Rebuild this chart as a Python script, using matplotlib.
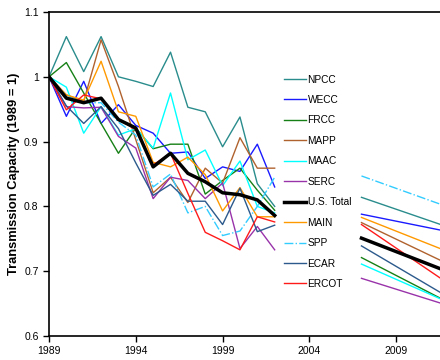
import matplotlib
matplotlib.use('Agg')
import matplotlib.pyplot as plt
import numpy as np

plt.rcParams['font.family'] = ['Liberation Sans', 'DejaVu Sans']

years = list(range(1989, 2003))
proj_years = [2007, 2012]

regions = ['NPCC', 'WECC', 'FRCC', 'MAPP', 'MAAC', 'SERC', 'U.S. Total', 'MAIN', 'SPP', 'ECAR', 'ERCOT']

npcc = [1.0, 1.062, 1.008, 1.062, 1.0, 0.993, 0.985, 1.038, 0.953, 0.946, 0.892, 0.938, 0.835, 0.80]
wecc = [1.0, 0.939, 0.993, 0.928, 0.957, 0.925, 0.913, 0.882, 0.884, 0.843, 0.861, 0.854, 0.896, 0.83]
frcc = [1.0, 1.022, 0.975, 0.928, 0.882, 0.921, 0.889, 0.896, 0.896, 0.819, 0.84, 0.859, 0.825, 0.794]
mapp = [1.0, 0.972, 0.962, 1.057, 0.985, 0.903, 0.821, 0.845, 0.806, 0.859, 0.836, 0.906, 0.859, 0.859]
maac = [1.0, 0.984, 0.913, 0.954, 0.91, 0.92, 0.89, 0.975, 0.872, 0.887, 0.832, 0.87, 0.80, 0.79]
serc = [1.0, 0.954, 0.952, 0.953, 0.908, 0.89, 0.812, 0.845, 0.84, 0.812, 0.836, 0.735, 0.769, 0.733]
us_total = [1.0, 0.967, 0.960, 0.967, 0.934, 0.921, 0.861, 0.882, 0.851, 0.838, 0.821, 0.818, 0.810, 0.786]
main = [1.0, 0.972, 0.964, 1.024, 0.946, 0.939, 0.868, 0.861, 0.876, 0.849, 0.793, 0.829, 0.784, 0.784]
spp = [1.0, 0.97, 0.96, 0.96, 0.93, 0.91, 0.83, 0.85, 0.79, 0.80, 0.755, 0.762, 0.80, 0.845]
ecar = [1.0, 0.955, 0.928, 0.954, 0.92, 0.867, 0.817, 0.834, 0.808, 0.808, 0.772, 0.828, 0.761, 0.771]
ercot = [1.0, 0.949, 0.972, 0.966, 0.935, 0.918, 0.864, 0.882, 0.82, 0.76, 0.747, 0.733, 0.784, 0.776]

# projected values, 2007 and 2012
npcc_proj = [0.814, 0.768]
wecc_proj = [0.788, 0.761]
frcc_proj = [0.721, 0.652]
mapp_proj = [0.775, 0.711]
maac_proj = [0.711, 0.652]
serc_proj = [0.689, 0.647]
us_proj = [0.751, 0.699]
main_proj = [0.783, 0.730]
spp_proj = [0.847, 0.799]
ecar_proj = [0.739, 0.660]
ercot_proj = [0.772, 0.681]

hist = [npcc, wecc, frcc, mapp, maac, serc, us_total, main, spp, ecar, ercot]
proj = [npcc_proj, wecc_proj, frcc_proj, mapp_proj, maac_proj, serc_proj, us_proj,
        main_proj, spp_proj, ecar_proj, ercot_proj]

colors = ['#2a8c8c', '#1a1aff', '#168016', '#b0622e', '#00ffff', '#9933aa',
          '#000000', '#ff9900', '#33ccff', '#2c5a8c', '#ff1a1a']
styles = ['-', '-', '-', '-', '-', '-', '-', '-', '-.', '-', '-']
widths = [1.0] * 6 + [2.5] + [1.0] * 4

fig = plt.figure(figsize=(4.4, 3.6), dpi=100)
ax = fig.add_axes([49 / 440, 24 / 360, 434 / 440, 324 / 360])

for name, h, p, c, ls, lw in zip(regions, hist, proj, colors, styles, widths):
    z = 3 if name == 'U.S. Total' else 2
    ax.plot(years, h, color=c, linestyle=ls, linewidth=lw, label=name, zorder=z)
    ax.plot(proj_years, p, color=c, linestyle=ls, linewidth=lw, zorder=z)

ax.set_xlim(1989, 2014)
ax.set_ylim(0.6, 1.1)
ax.set_xticks(range(1989, 2010, 5))
ax.set_yticks([0.6, 0.7, 0.8, 0.9, 1.0, 1.1])
ax.set_yticklabels(['0.6', '0.7', '0.8', '0.9', '1', '1.1'])
ax.tick_params(labelsize=7.5, direction='out', length=4, width=1)
for s in ax.spines.values():
    s.set_linewidth(1.2)

ax.set_ylabel('Transmission Capacity (1989 = 1)', fontsize=9.3, fontweight='bold', labelpad=3)

ax.legend(loc='upper left', bbox_to_anchor=(0.521, 0.835), frameon=False, fontsize=7.3,
          handlelength=2.1, handletextpad=0.2, labelspacing=1.03)

fig.savefig('out.png', dpi=100)
